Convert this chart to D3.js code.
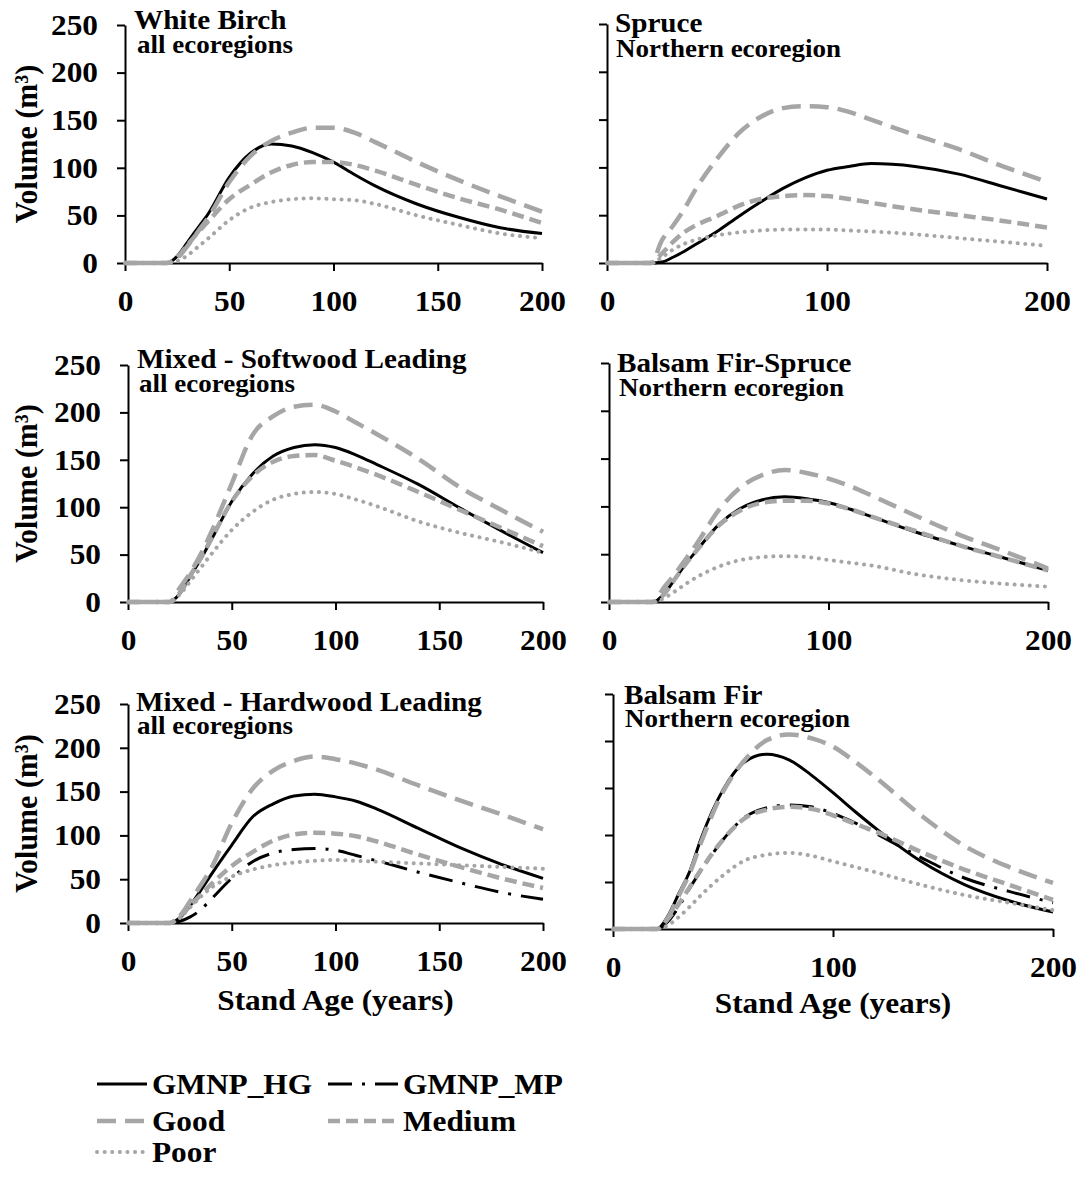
<!DOCTYPE html>
<meta charset="utf-8">
<style>body{margin:0;background:#fff}</style>
<svg width="1085" height="1177" font-family="'Liberation Serif','Times New Roman',serif" font-weight="bold"></svg>
<script src="https://d3js.org/d3.v7.min.js"></script>
<script>
// stand ages (years) at which volumes were read
var ages = [0, 10, 20, 25, 30, 35, 40, 50, 60, 70, 80, 90, 100, 110, 120, 140, 160, 180, 200];

// White Birch, all ecoregions
var birchHG     = [0, 0, 0, 7, 22, 37, 52, 90, 115, 125, 123, 116, 106, 93, 81, 62, 48, 37, 31];
var birchGood   = [0, 0, 0, 5, 18, 33, 48, 85, 112, 128, 137, 142, 142, 137, 127, 106, 87, 70, 54];
var birchMedium = [0, 0, 0, 6, 19, 32, 44, 67, 82, 95, 103, 106, 106, 103, 97, 82, 68, 56, 42];
var birchPoor   = [0, 0, 0, 2, 8, 17, 26, 45, 58, 64, 67, 68, 67, 66, 62, 50, 40, 31, 26];

// Spruce, Northern ecoregion
var spruceHG     = [0, 0, 0, 1, 6, 12, 19, 33, 49, 64, 78, 89, 97, 101, 104, 101, 93, 80, 67];
var spruceGood   = [0, 0, 0, 24, 39, 56, 76, 109, 136, 153, 162, 164, 163, 158, 150, 134, 119, 101, 85];
var spruceMedium = [0, 0, 0, 10, 22, 32, 39, 49, 60, 67, 70, 71, 70, 67, 63, 56, 50, 44, 37];
var sprucePoor   = [0, 0, 0, 6, 14, 20, 24, 29, 32, 34, 35, 35, 35, 34, 33, 30, 26, 22, 18];

// Mixed - Softwood Leading, all ecoregions
var softHG     = [0, 0, 0, 9, 27, 45, 65, 106, 135, 154, 163, 166, 163, 155, 145, 124, 99, 75, 52];
var softGood   = [0, 0, 0, 15, 31, 50, 73, 125, 176, 196, 206, 208, 201, 189, 177, 151, 121, 97, 74];
var softMedium = [0, 0, 0, 10, 28, 46, 66, 106, 133, 148, 154, 155, 149, 142, 134, 116, 97, 78, 59];
var softPoor   = [0, 0, 0, 8, 22, 36, 50, 76, 95, 108, 114, 116, 114, 108, 101, 85, 73, 63, 52];

// Balsam Fir-Spruce, Northern ecoregion
var bfsHG     = [0, 0, 0, 8, 24, 40, 54, 81, 98, 107, 110, 108, 104, 97, 89, 73, 59, 46, 33];
var bfsGood   = [0, 0, 0, 15, 29, 45, 61, 96, 120, 133, 138, 135, 129, 121, 111, 90, 70, 53, 35];
var bfsMedium = [0, 0, 0, 8, 24, 40, 54, 80, 96, 104, 106, 106, 103, 97, 89, 74, 59, 46, 33];
var bfsPoor   = [0, 0, 0, 4, 11, 19, 26, 37, 44, 47, 48, 47, 44, 41, 38, 29, 23, 19, 16];

// Mixed - Hardwood Leading, all ecoregions
var hardHG     = [0, 0, 0, 6, 20, 37, 55, 89, 121, 136, 145, 147, 144, 139, 130, 108, 86, 67, 51];
var hardMP     = [0, 0, 0, 2, 7, 15, 27, 51, 70, 80, 84, 85, 83, 77, 71, 58, 46, 35, 27];
var hardGood   = [0, 0, 0, 8, 25, 43, 62, 114, 153, 174, 185, 190, 187, 182, 175, 157, 140, 124, 107];
var hardMedium = [0, 0, 0, 8, 20, 32, 44, 65, 81, 94, 101, 103, 102, 99, 93, 78, 64, 51, 40];
var hardPoor   = [0, 0, 0, 6, 18, 30, 40, 53, 61, 66, 69, 71, 72, 71, 70, 68, 66, 64, 62];

// Balsam Fir, Northern ecoregion
var firHG     = [0, 0, 0, 14, 38, 62, 96, 148, 178, 186, 180, 164, 145, 125, 106, 72, 47, 30, 18];
var firMP     = [0, 0, 0, 8, 24, 44, 62, 95, 119, 129, 132, 130, 123, 113, 101, 76, 54, 40, 28];
var firGood   = [0, 0, 0, 12, 36, 60, 92, 146, 180, 201, 207, 203, 194, 178, 160, 121, 88, 66, 49];
var firMedium = [0, 0, 0, 11, 27, 45, 63, 95, 118, 127, 130, 128, 121, 112, 103, 82, 63, 47, 31];
var firPoor   = [0, 0, 0, 4, 13, 24, 36, 57, 73, 79, 81, 78, 72, 66, 60, 47, 36, 28, 20];

var titles    = ["White Birch", "Spruce", "Mixed - Softwood Leading", "Balsam Fir-Spruce", "Mixed - Hardwood Leading", "Balsam Fir"];
var subtitles = ["all ecoregions", "Northern ecoregion", "all ecoregions", "Northern ecoregion", "all ecoregions", "Northern ecoregion"];
var seriesNames = ["GMNP_HG", "GMNP_MP", "Good", "Medium", "Poor"];
var yTicks = [0, 50, 100, 150, 200, 250];
var xTicksFive = [0, 50, 100, 150, 200];
var xTicksThree = [0, 100, 200];

var panelData = [
  {GMNP_HG: birchHG, Good: birchGood, Medium: birchMedium, Poor: birchPoor},
  {GMNP_HG: spruceHG, Good: spruceGood, Medium: spruceMedium, Poor: sprucePoor},
  {GMNP_HG: softHG, Good: softGood, Medium: softMedium, Poor: softPoor},
  {GMNP_HG: bfsHG, Good: bfsGood, Medium: bfsMedium, Poor: bfsPoor},
  {GMNP_HG: hardHG, GMNP_MP: hardMP, Good: hardGood, Medium: hardMedium, Poor: hardPoor},
  {GMNP_HG: firHG, GMNP_MP: firMP, Good: firGood, Medium: firMedium, Poor: firPoor}
];

// pixel layout of each panel
var layout = [
  {x: [125, 542], y: [263, 25],  ticks: xTicksFive,  left: true,  tx: 134, ty: 29,  sx: 137, sy: 53},
  {x: [607, 1047], y: [263, 24], ticks: xTicksThree, left: false, tx: 615, ty: 32,  sx: 616, sy: 57},
  {x: [128, 543], y: [602, 365], ticks: xTicksFive,  left: true,  tx: 137, ty: 368, sx: 139, sy: 392},
  {x: [609, 1048], y: [602, 363], ticks: xTicksThree, left: false, tx: 617, ty: 372, sx: 619, sy: 396},
  {x: [128, 543], y: [923, 704], ticks: xTicksFive,  left: true,  tx: 136, ty: 711, sx: 137, sy: 734},
  {x: [613, 1053], y: [929, 694], ticks: xTicksThree, left: false, tx: 624, ty: 704, sx: 625, sy: 727}
];

var grey = "#a6a6a6";
var styles = {
  GMNP_HG: {stroke: "#000", width: 3, dash: null, cap: "butt"},
  GMNP_MP: {stroke: "#000", width: 3, dash: "24,10,3,10", cap: "butt"},
  Good:    {stroke: grey, width: 4.5, dash: "19,9", cap: "butt"},
  Medium:  {stroke: grey, width: 4.5, dash: "12,6", cap: "butt"},
  Poor:    {stroke: grey, width: 4, dash: "0.1,7.5", cap: "round"}
};
var drawOrder = ["GMNP_HG", "GMNP_MP", "Good", "Medium", "Poor"];
var stretch = "scale(1.08,1)";

var svg = d3.select("svg");

layout.forEach(function(L, i) {
  var x = d3.scaleLinear().domain([0, 200]).range(L.x),
      y = d3.scaleLinear().domain([0, 250]).range(L.y);

  var g = svg.append("g");

  var xAxis = g.append("g")
      .attr("transform", "translate(0," + L.y[0] + ")")
      .call(d3.axisBottom(x).tickValues(L.ticks).tickSize(8).tickPadding(19).tickSizeOuter(0))
      .attr("font-family", null).attr("font-size", 29);
  xAxis.selectAll("text").attr("transform", stretch);

  var yAxis = g.append("g")
      .attr("transform", "translate(" + L.x[0] + ",0)")
      .call(d3.axisLeft(y).tickValues(yTicks).tickSize(8).tickPadding(17).tickSizeOuter(0)
        .tickFormat(L.left ? d3.format("d") : ""))
      .attr("font-family", null).attr("font-size", 29);
  yAxis.selectAll("text").attr("transform", stretch);

  g.selectAll(".domain, .tick line").attr("stroke", "#000").attr("stroke-width", 2);
  g.selectAll(".tick text").attr("fill", "#000");

  var line = d3.line()
      .x(function(d, j) { return x(ages[j]); })
      .y(function(d) { return y(d); })
      .curve(d3.curveMonotoneX);

  drawOrder.forEach(function(name) {
    var vals = panelData[i][name];
    if (!vals) return;
    var s = styles[name];
    g.append("path")
        .datum(vals)
        .attr("fill", "none")
        .attr("stroke", s.stroke)
        .attr("stroke-width", s.width)
        .attr("stroke-dasharray", s.dash)
        .attr("stroke-linecap", s.cap)
        .attr("d", line);
  });

  g.append("text")
      .attr("transform", "translate(" + L.tx + "," + L.ty + ") " + stretch)
      .attr("font-size", 27)
      .text(titles[i]);
  g.append("text")
      .attr("transform", "translate(" + L.sx + "," + L.sy + ") " + stretch)
      .attr("font-size", 25)
      .text(subtitles[i]);

  if (L.left) {
    g.append("text")
        .attr("transform", "translate(37," + (L.y[0] + L.y[1]) / 2 + ") rotate(-90) scale(1,1.08)")
        .attr("text-anchor", "middle")
        .attr("font-size", 30)
        .text("Volume (m³)");
  }
  if (i >= 4) {
    g.append("text")
        .attr("transform", "translate(" + (L.x[0] + L.x[1]) / 2 + "," + (i === 4 ? 1010 : 1013) + ") " + stretch)
        .attr("text-anchor", "middle")
        .attr("font-size", 29)
        .text("Stand Age (years)");
  }
});

// legend
var legendPos = [
  {name: "GMNP_HG", x: 97,  y: 1094},
  {name: "GMNP_MP", x: 328, y: 1094},
  {name: "Good",    x: 97,  y: 1131},
  {name: "Medium",  x: 328, y: 1131},
  {name: "Poor",    x: 97,  y: 1162}
];
var legend = svg.append("g");
legendPos.forEach(function(p) {
  var s = styles[p.name];
  var len = p.x < 200 ? 50 : 70;
  legend.append("line")
      .attr("x1", p.x).attr("x2", p.x + len)
      .attr("y1", p.y - 10).attr("y2", p.y - 10)
      .attr("stroke", s.stroke)
      .attr("stroke-width", s.width)
      .attr("stroke-dasharray", s.dash)
      .attr("stroke-linecap", s.cap);
  legend.append("text")
      .attr("transform", "translate(" + (p.x + len + 5) + "," + p.y + ") " + stretch)
      .attr("font-size", 29)
      .text(p.name);
});
</script>
